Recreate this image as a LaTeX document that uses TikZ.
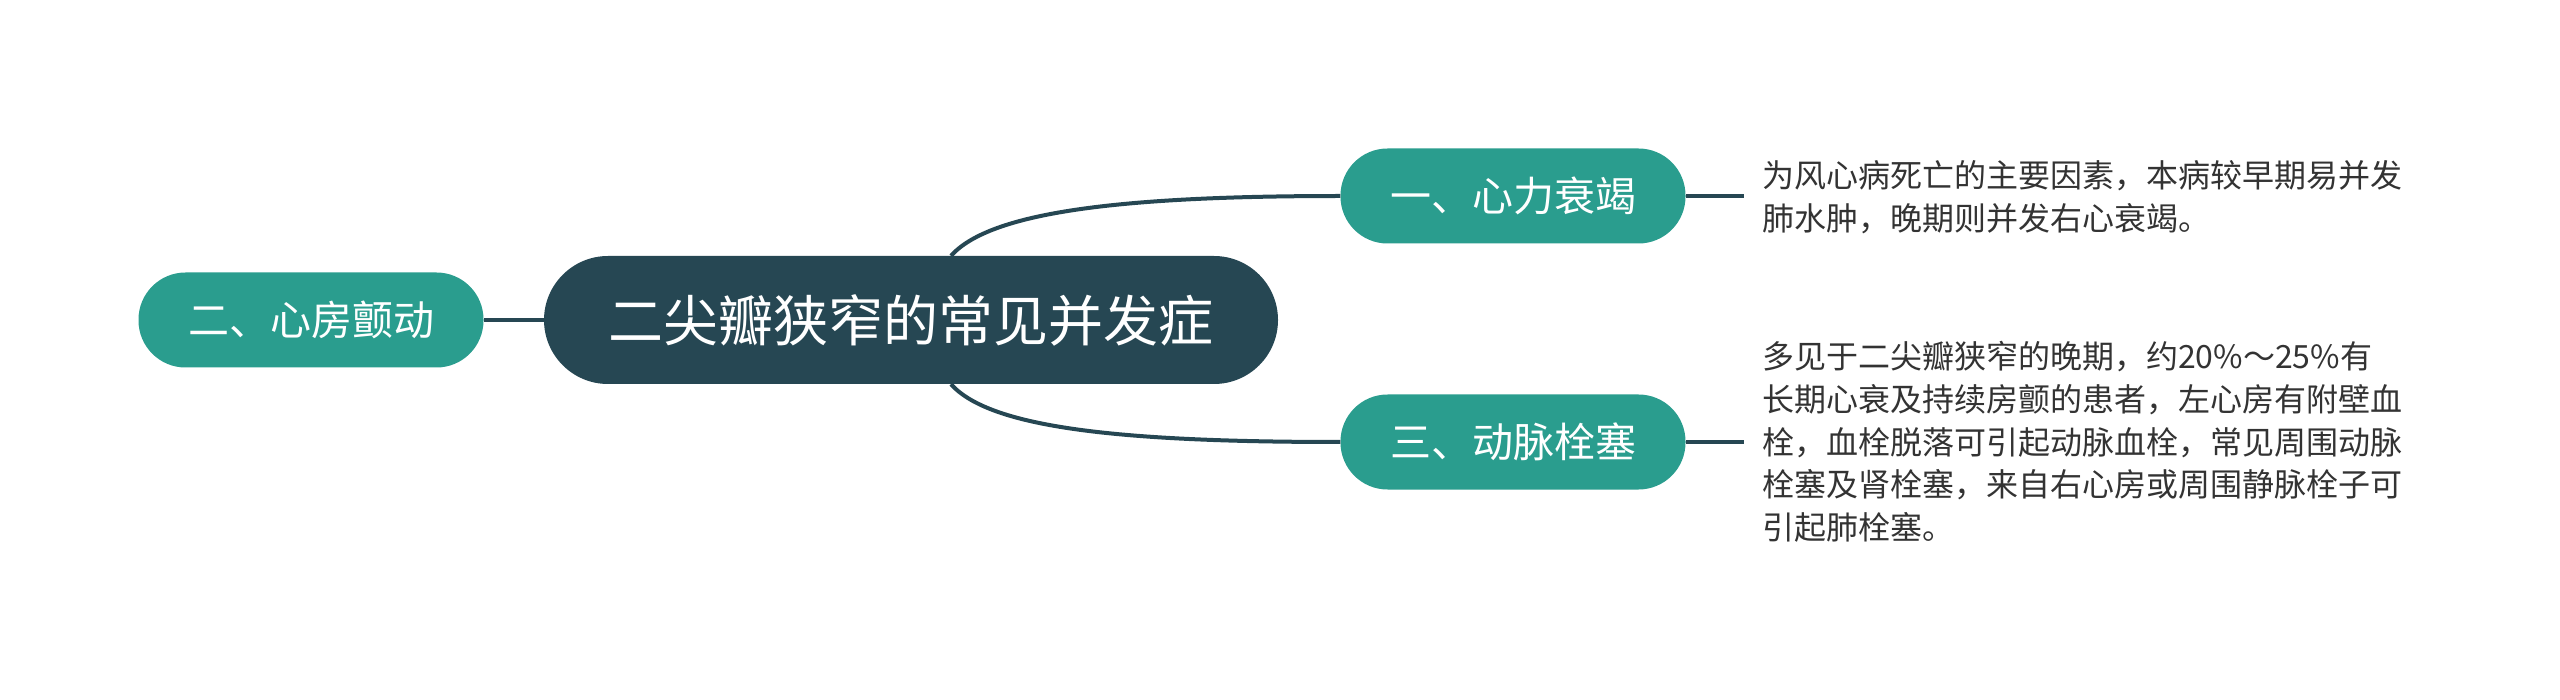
\documentclass[tikz,border=0pt]{standalone}
\usepackage{fontspec}
\setmainfont{Noto Sans CJK SC}
\usetikzlibrary{positioning}

\definecolor{rootcol}{HTML}{264753}
\definecolor{topiccol}{HTML}{2A9D8E}
\definecolor{textcol}{HTML}{333333}

\begin{document}
\begin{tikzpicture}[x=1pt,y=-1pt,
  rootbox/.style={fill=rootcol, text=white, rounded corners=64pt, minimum width=734pt, minimum height=128pt, font=\fontsize{55}{60}\selectfont},
  topicbox/.style={fill=topiccol, text=white, rounded corners=47pt, minimum width=345pt, minimum height=95pt, font=\fontsize{41}{46}\selectfont},
  notetext/.style={anchor=west, align=left, text=textcol, inner sep=0pt, font=\fontsize{32}{42.7}\selectfont},
  link/.style={draw=rootcol, line width=4pt}]

\useasboundingbox (0,0) rectangle (2560,700);

\node[rootbox] (root) at (911,320) {二尖瓣狭窄的常见并发症};
\node[topicbox] (two) at (311,320) {二、心房颤动};
\node[topicbox] (one) at (1513,196) {一、心力衰竭};
\node[topicbox] (three) at (1513,442) {三、动脉栓塞};

\coordinate (e1) at (1744,196);
\coordinate (e3) at (1744,442);

\node[notetext] (note1) at (1762,197) {为风心病死亡的主要因素，本病较早期易并发\\肺水肿，晚期则并发右心衰竭。};
\node[notetext] (note3) at (1762,442) {多见于二尖瓣狭窄的晚期，约20\%～25\%有\\长期心衰及持续房颤的患者，左心房有附壁血\\栓，血栓脱落可引起动脉血栓，常见周围动脉\\栓塞及肾栓塞，来自右心房或周围静脉栓子可\\引起肺栓塞。};

% connectors
\draw[link] (root.west) -- (two.east);
\draw[link] ([xshift=40pt]root.north) .. controls (990,212) and (1120,196) .. (one.west);
\draw[link] ([xshift=40pt]root.south) .. controls (990,428) and (1120,442) .. (three.west);
\draw[link] (one.east) -- (e1);
\draw[link] (three.east) -- (e3);

\end{tikzpicture}
\end{document}
